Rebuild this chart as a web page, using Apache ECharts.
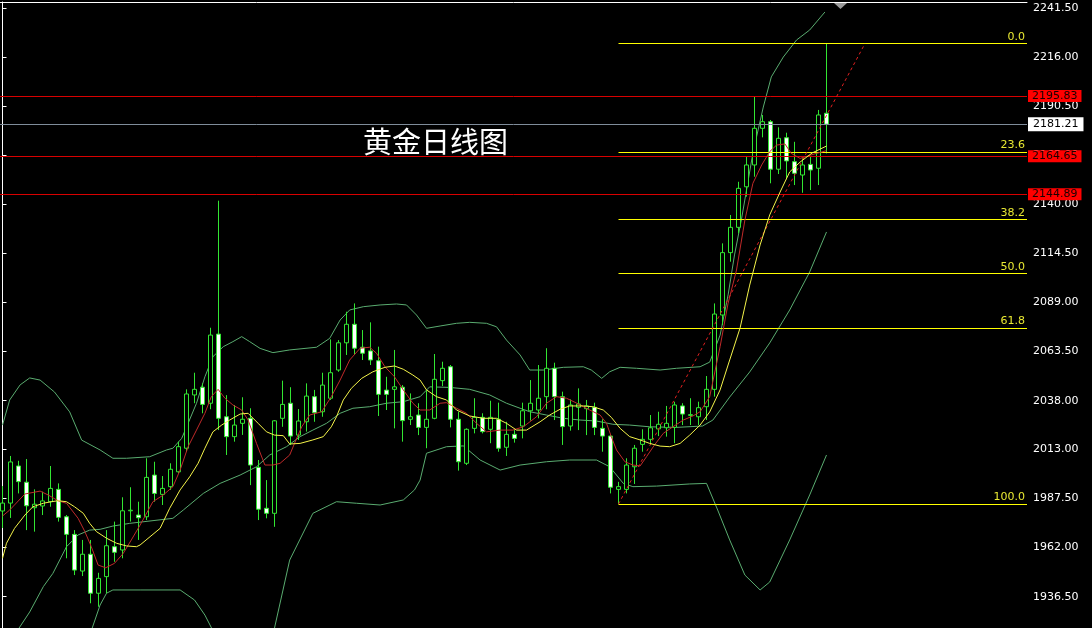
<!DOCTYPE html>
<html><head><meta charset="utf-8">
<script src="https://cdn.jsdelivr.net/npm/echarts@6/dist/echarts.min.js"></script>
<style>html,body{margin:0;padding:0;background:#000;}#c{width:1092px;height:628px;}</style>
</head><body><div id="c"></div>
<script>
// ---- data ----
const opens=[1980.9,1985.0,2004.2,1995.8,1982.6,1983.5,1985.7,1992.1,1977.9,1968.8,1949.8,1958.5,1938.3,1946.9,1962.4,1960.7,1981.0,1978.8,1977.9,1999.5,1989.5,1993.5,2001.2,2013.4,2041.0,2045.0,2036.7,2072.5,2029.7,2019.4,2026.3,2028.9,2003.5,1982.3,1979.7,2028.9,2036.7,2020.2,2027.1,2040.1,2032.3,2039.3,2053.9,2068.0,2077.6,2065.7,2063.8,2058.7,2043.5,2043.9,2045.0,2028.4,2030.6,2024.2,2028.9,2048.4,2055.6,2028.4,2005.6,2023.7,2029.4,2023.2,2028.4,2013.9,2020.6,2024.9,2032.8,2033.2,2040.1,2054.8,2040.1,2024.9,2034.6,2033.9,2034.6,2023.7,2019.7,1992.1,1992.1,2003.8,2015.4,2018.0,2023.4,2024.0,2024.2,2035.3,2030.4,2029.7,2034.9,2043.9,2082.4,2114.7,2127.8,2148.8,2160.1,2179.1,2182.5,2157.9,2174.2,2161.8,2154.9,2160.4,2158.4,2186.9];
const closes=[1985.0,2006.3,1996.1,1983.6,1984.4,1986.1,1992.6,1977.6,1968.8,1950.3,1958.5,1938.3,1946.0,1962.9,1959.5,1981.0,1981.3,1977.4,1998.3,1990.0,1992.6,2002.5,2014.2,2041.5,2043.9,2036.1,2072.0,2028.9,2019.4,2025.4,2028.4,2004.7,1981.8,1979.7,2027.6,2036.1,2019.7,2027.5,2040.4,2031.8,2046.1,2052.5,2068.0,2077.6,2065.2,2062.6,2059.1,2041.3,2041.3,2045.2,2027.7,2029.7,2024.2,2028.4,2049.1,2054.8,2028.4,2006.4,2023.2,2029.4,2022.0,2029.4,2013.4,2020.6,2018.5,2032.8,2036.7,2039.3,2054.8,2040.1,2024.6,2035.8,2036.3,2035.3,2024.2,2019.7,1993.2,1993.5,2004.7,2013.4,2018.0,2024.0,2025.8,2026.3,2035.8,2031.1,2030.8,2034.4,2043.9,2082.9,2114.7,2127.8,2148.0,2160.1,2179.1,2182.5,2157.9,2173.9,2162.2,2155.8,2160.1,2157.5,2186.0,2181.2];
const lows=[1972.1,1977.3,1990.0,1971.0,1970.2,1978.8,1983.1,1975.4,1956.4,1947.7,1947.2,1933.1,1931.3,1938.3,1954.6,1956.4,1975.4,1965.9,1976.2,1985.7,1984.0,1991.8,2000.4,2011.6,2036.7,2031.5,2033.6,2022.8,2009.9,2016.8,2020.3,1994.3,1976.2,1977.1,1972.7,2024.5,2015.1,2017.7,2022.0,2027.1,2029.7,2038.4,2053.0,2061.7,2061.7,2059.1,2056.5,2030.1,2033.2,2023.7,2016.8,2025.4,2020.2,2013.4,2028.4,2045.6,2024.2,2001.8,2004.7,2021.1,2021.1,2016.0,2011.6,2009.4,2016.3,2018.5,2027.7,2028.9,2033.6,2028.0,2015.1,2022.5,2022.8,2020.2,2020.2,2011.6,1990.0,1984.5,1990.0,1994.9,2011.6,2015.1,2019.7,2019.4,2016.0,2025.4,2025.4,2025.4,2028.0,2040.1,2077.2,2110.0,2124.7,2143.7,2154.0,2174.4,2150.6,2155.4,2152.7,2149.7,2145.7,2147.1,2149.7,2166.1];
const highs=[1993.8,2009.4,2006.9,2007.8,1992.1,1990.9,2004.2,1995.2,1978.8,1971.0,1965.9,1965.9,1948.9,1971.0,1975.4,1988.0,1993.2,1985.7,2008.2,2006.4,1999.0,2005.6,2016.8,2043.9,2052.5,2047.0,2075.8,2141.6,2040.9,2035.8,2039.8,2034.1,2007.3,1996.9,2028.0,2048.4,2045.0,2033.7,2047.0,2043.6,2052.5,2069.8,2069.4,2084.1,2088.4,2074.6,2078.6,2066.0,2050.4,2064.3,2046.1,2041.8,2036.7,2043.5,2062.2,2058.2,2056.5,2032.3,2023.7,2039.3,2031.5,2038.0,2037.0,2027.1,2022.8,2037.0,2048.7,2056.5,2065.2,2057.7,2042.7,2038.7,2044.4,2038.4,2037.0,2028.4,2020.5,1996.0,2008.2,2015.1,2023.2,2030.6,2032.3,2035.3,2037.5,2036.7,2039.3,2037.5,2050.8,2088.4,2119.5,2134.2,2151.4,2164.4,2195.8,2186.0,2183.4,2179.6,2176.8,2172.1,2163.5,2164.4,2188.6,2223.1];

// indicator lines: [bar index, price]
const redMA=[[0,1978.3],[0.9,1981.4],[2.8,1989.7],[4.7,1991.2],[5.7,1989.2],[7,1986.1],[8,1984.9],[9.45,1977.1],[10.3,1970.2],[11.1,1962.4],[11.95,1952.9],[12.9,1951.5],[14,1953.8],[15.1,1959.0],[16.1,1965.9],[17.2,1973.6],[18.8,1985.7],[20.1,1989.2],[21.3,1993.5],[22.2,2002.1],[23.2,2014.2],[24.25,2022.8],[25.3,2031.5],[26.1,2040.1],[26.95,2043.9],[27.8,2039.3],[28.8,2035.8],[29.9,2033.2],[30.7,2028.0],[31.75,2015.9],[32.8,2004.7],[33.8,2004.7],[34.7,2005.6],[35.9,2009.9],[36.5,2015.9],[37.4,2024.5],[38.4,2030.6],[39.9,2032.3],[41.1,2040.1],[42.2,2048.7],[43.4,2059.1],[44.7,2065.2],[45.9,2065.7],[46.75,2062.6],[47.8,2055.6],[49,2050.4],[50.1,2043.6],[51.3,2036.7],[52.2,2033.2],[53.4,2033.2],[54.7,2036.7],[55.5,2037.0],[56.75,2034.1],[58,2031.5],[59.25,2026.3],[60.5,2021.9],[62.2,2022.8],[63.8,2022.8],[65.1,2024.5],[66.75,2029.7],[68,2036.7],[69.25,2040.1],[70.5,2039.3],[71.75,2036.8],[73.4,2033.2],[74.7,2030.6],[75.5,2026.3],[76.1,2019.4],[76.75,2012.5],[77.8,2006.4],[78.8,2004.7],[79.7,2004.2],[80.5,2009.0],[81.5,2015.1],[82.6,2021.1],[83.8,2024.5],[85.1,2028.0],[86.3,2030.1],[87.2,2032.3],[88.4,2040.1],[89.7,2066.0],[90.7,2088.5],[91.75,2105.7],[92.8,2131.6],[93.8,2150.6],[94.9,2160.1],[95.9,2167.0],[96.75,2170.4],[97.8,2171.0],[98.6,2166.1],[99.7,2163.5],[100.7,2164.8],[101.75,2166.1],[103,2167.5]];
const yellowMA=[[0,1956.4],[0.5,1964.2],[1.5,1971.9],[2.8,1978.8],[3.8,1983.1],[5.1,1984.9],[6.1,1985.7],[6.95,1986.2],[8,1985.7],[9,1983.1],[10.1,1979.7],[10.9,1974.5],[11.75,1970.2],[13,1966.8],[14.25,1964.2],[15.5,1962.8],[16.75,1962.4],[17.2,1963.3],[19.7,1971.9],[20.9,1982.3],[22.2,1991.8],[23.4,1998.6],[24.45,2005.6],[25.3,2013.4],[26.3,2021.9],[27.4,2025.4],[28.4,2028.0],[29.7,2031.1],[30.7,2031.5],[31.95,2026.3],[33,2021.9],[34,2020.2],[35.1,2019.9],[35.9,2015.6],[37.2,2015.9],[38.8,2017.7],[40.1,2019.4],[41.1,2024.5],[41.75,2029.7],[42.6,2038.4],[43.6,2044.4],[44.9,2049.6],[46.3,2053.0],[47.8,2055.3],[49,2056.0],[50.1,2054.3],[51.3,2051.3],[52.2,2048.7],[53,2043.6],[54.25,2040.1],[55.5,2038.4],[56.75,2033.2],[58.4,2030.1],[60.1,2028.9],[61.75,2028.9],[63,2026.3],[64.25,2022.8],[65.5,2022.8],[67.2,2027.1],[68.4,2030.6],[69.7,2033.6],[70.9,2035.3],[72.6,2035.3],[73.8,2034.9],[75.1,2033.2],[76.1,2029.4],[77.2,2023.7],[78.4,2019.4],[79.7,2017.7],[80.9,2015.9],[82.2,2014.5],[83.4,2014.2],[84.7,2015.9],[85.9,2020.2],[87.2,2025.4],[88.4,2032.2],[89.7,2043.6],[90.9,2059.1],[92.2,2075.7],[93.4,2097.9],[94.7,2118.7],[95.9,2134.2],[97.2,2146.1],[98.4,2156.5],[99.7,2161.6],[101.2,2166.3],[103,2169.9]];
const bbUpper=[[0,2025.4],[0.9,2038.4],[2.2,2046.2],[3.4,2049.8],[4.7,2048.7],[6.5,2042.5],[8.4,2032.2],[9.9,2017.6],[12.2,2012.5],[13.8,2008.2],[15.5,2008.2],[18.4,2009.0],[20.5,2012.5],[21.3,2013.4],[22.4,2018.5],[23.2,2026.3],[24.25,2036.7],[25.3,2050.4],[26.3,2060.8],[27.6,2066.0],[28.8,2068.6],[29.9,2071.2],[30.9,2068.6],[32.2,2065.1],[33.8,2062.9],[35.9,2064.3],[39.25,2065.7],[40.9,2070.3],[42.2,2079.8],[43.4,2085.0],[45.1,2086.7],[47.2,2087.6],[49.25,2088.1],[50.5,2087.6],[51.75,2082.4],[53,2075.5],[54.7,2076.7],[56.75,2078.1],[58.4,2078.6],[60.5,2078.1],[61.75,2076.3],[63,2069.4],[64.7,2061.7],[65.9,2053.9],[67.6,2053.9],[70.1,2055.3],[72.6,2055.6],[73.6,2053.9],[74.9,2049.6],[75.9,2053.0],[77.2,2055.3],[79.25,2054.8],[82.2,2053.9],[84.25,2054.8],[87.2,2055.6],[88.4,2058.0],[89.7,2072.0],[90.7,2092.8],[91.5,2113.5],[92.4,2132.6],[93.8,2166.3],[95.1,2190.1],[96.1,2205.7],[97.6,2216.0],[99.25,2224.8],[100.9,2230.0],[102.8,2239.3]];
const bbMid=[[0,1906.3],[1.5,1916.7],[3.4,1928.6],[5.1,1941.7],[6.3,1948.6],[8,1962.4],[9.45,1968.5],[10.9,1971.0],[12.2,1971.4],[13.8,1973.1],[15.9,1974.5],[21.3,1977.1],[22.6,1981.4],[25.1,1990.0],[27.2,1995.2],[29.7,1999.5],[31.75,2003.8],[33.4,2009.9],[35.5,2014.2],[37.2,2019.4],[38.8,2022.8],[40.5,2026.3],[42.2,2031.5],[43.8,2034.1],[45.9,2034.9],[48,2036.7],[50.1,2037.5],[52.2,2040.1],[53.4,2045.2],[55.9,2044.9],[58.4,2043.9],[60.9,2041.0],[63,2036.7],[64.7,2034.1],[65.9,2032.3],[68,2030.6],[70.1,2028.9],[72.2,2028.0],[74.25,2027.5],[76.3,2025.8],[78.4,2025.4],[80.9,2024.5],[84.25,2024.2],[87.5,2024.9],[88.8,2028.0],[90.9,2039.9],[93.4,2052.9],[95.9,2067.9],[98.4,2085.0],[100.9,2104.7],[103,2125.4]];
const bbLower=[[10.7,1914.1],[12.2,1932.2],[13,1938.3],[13.8,1940.0],[17.2,1940.0],[22.2,1940.0],[24,1934.8],[25.3,1927.0],[26.9,1914.1],[29.7,1903.7],[32.2,1908.9],[34,1920.3],[35.9,1955.5],[38.8,1979.7],[41.75,1985.7],[44.25,1984.9],[47.2,1984.0],[50.1,1986.6],[51.5,1991.8],[52.2,1996.9],[53,2010.8],[55.5,2014.2],[57.6,2014.6],[59.7,2007.3],[62.2,2002.1],[64.7,2004.7],[68,2006.4],[70.9,2007.3],[74.25,2007.3],[75.9,2003.8],[77.6,1995.2],[78.8,1993.5],[81.75,1993.8],[85.9,1994.9],[88,1995.2],[89.4,1981.4],[90.9,1965.9],[92.8,1947.7],[94.7,1940.0],[95.9,1944.1],[98.4,1965.9],[100.9,1989.2],[103,2009.9]];

const yTicks=[2241.5,2216,2190.5,2165,2140,2114.5,2089,2063.5,2038,2013,1987.5,1962,1936.5];
const redLevels=[2195.83,2164.65,2144.89];
const bidLevel=2181.21;
const fibLabels=['0.0','23.6','38.2','50.0','61.8','100.0'];
const fibPrices=[2223.1,2166.8,2131.9,2103.8,2075.7,1984.5];
const fibStartBar=77;
const trendLine=[[77,1984.5],[107.8,2222.9]];
const titleText='黄金日线图';

// ---- chart ----
const FONT='DejaVu Sans';
const candles=opens.map((o,i)=>[i,o,closes[i],lows[i],highs[i]]);
const X_MIN=-0.3125, X_MAX=128.0625;

const markData=[];
redLevels.forEach(v=>markData.push({yAxis:v,lineStyle:{color:'#d80000',width:1,type:'solid'},
  label:{show:true,position:'end',distance:1,formatter:v.toFixed(2),backgroundColor:'#ff0000',color:'#1a0000',padding:[1,4,0,4],fontSize:11,fontFamily:FONT}}));
markData.push({yAxis:bidLevel,lineStyle:{color:'#7f8c9a',width:1,type:'solid'},
  label:{show:true,position:'end',distance:1,formatter:bidLevel.toFixed(2),backgroundColor:'#ffffff',color:'#000',padding:[2,5,1,5],fontSize:11,fontFamily:FONT}});
fibPrices.forEach((v,k)=>markData.push([
  {coord:[fibStartBar,v],lineStyle:{color:'#ffff00',width:1,type:'solid'},
   label:{show:true,position:'insideEndTop',distance:[2,1],formatter:fibLabels[k],color:'#e8e832',fontSize:11,fontFamily:FONT}},
  {coord:[X_MAX,v]}]));
markData.push([{coord:trendLine[0],lineStyle:{color:'#e02020',width:1,type:[3,3]},label:{show:false}},{coord:trendLine[1]}]);

function lineSeries(d,color){return {type:'line',data:d,symbol:'none',showSymbol:false,silent:true,
  lineStyle:{color:color,width:1},itemStyle:{color:color},z:3};}

const chart=echarts.init(document.getElementById('c'),null,{renderer:'canvas'});
chart.setOption({
  backgroundColor:'#000',
  animation:false,
  title:{text:titleText,left:358,top:122,textStyle:{color:'#fff',fontSize:29,fontWeight:'normal',fontFamily:'Noto Sans CJK SC'}},
  grid:{left:0,right:65,top:2,bottom:0,containLabel:false},
  xAxis:{type:'value',min:X_MIN,max:X_MAX,position:'top',
    axisLine:{show:true,onZero:false,lineStyle:{color:'#fff',width:1}},axisTick:{show:false},axisLabel:{show:false},splitLine:{show:false}},
  yAxis:{type:'value',position:'right',min:1920.3,max:2244.5,scale:true,
    axisLine:{show:true,lineStyle:{color:'#fff',width:1}},
    axisTick:{show:true,customValues:yTicks,length:4,lineStyle:{color:'#fff'}},
    axisLabel:{show:true,customValues:yTicks,formatter:v=>v.toFixed(2),color:'#fff',fontSize:11,fontFamily:FONT,margin:6},
    splitLine:{show:false}},
  graphic:[{type:'polygon',shape:{points:[[834,3],[847,3],[840.5,9]]},style:{fill:'#9a9a9a'},z:10}],
  series:[
    lineSeries(bbUpper,'#5aac70'),
    lineSeries(bbMid,'#5aac70'),
    lineSeries(bbLower,'#5aac70'),
    {type:'candlestick',data:candles,encode:{x:0,y:[1,2,3,4]},barWidth:5,z:4,silent:true,
      itemStyle:{color:'#000',color0:'#ffffff',borderColor:'#32e632',borderColor0:'#32e632',borderWidth:1},
      markLine:{silent:true,symbol:['none','none'],animation:false,z:5,data:markData}},
    Object.assign(lineSeries(redMA,'#c02a2a'),{z:6}),
    Object.assign(lineSeries(yellowMA,'#f4f44a'),{z:6})
  ]
});
</script></body></html>
